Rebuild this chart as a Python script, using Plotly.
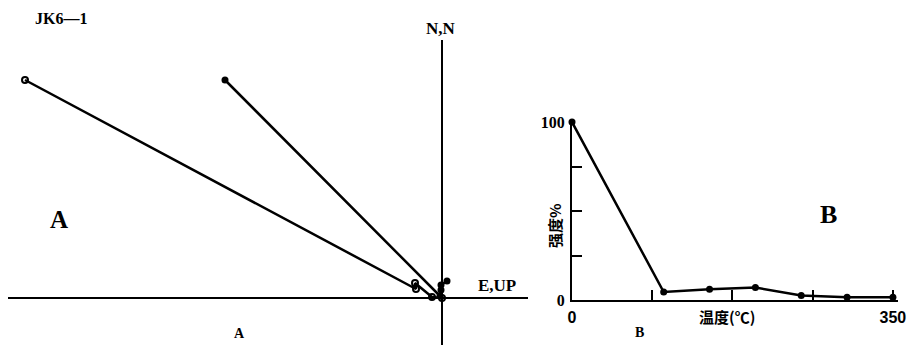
import plotly.graph_objects as go

# Left: orthogonal vector projection (arbitrary units)
open_x = [-41.7, -2.6, -2.7, -1.0, 0.0]
open_y = [21.8, 0.9, 1.5, 0.1, 0.0]
fill_x = [-21.7, -0.2, -0.1, -0.1, 0.5]
fill_y = [21.8, 0.2, 0.8, 1.3, 1.7]

# Right: demagnetization curve
temps = [0, 100, 150, 200, 250, 300, 350]
intensity = [100, 4.5, 6, 7, 2.5, 1.5, 1.5]
x_ticks = [0, 87.5, 175, 262.5, 350]
x_ticktext = ["0", "", "", "", "350"]
y_ticks = [0, 25, 50, 75, 100]
y_ticktext = ["0", "", "", "", "100"]

W, H = 908, 345
serif = "Liberation Serif, DejaVu Serif, serif"
sans = "Liberation Sans, Arial, sans-serif"
cjk = "Noto Sans CJK SC"

fig = go.Figure()
fig.add_trace(go.Scatter(x=open_x, y=open_y, mode="lines+markers",
                         line=dict(color="black", width=2.5),
                         marker=dict(symbol="circle-open", size=6, color="black", line=dict(width=2)),
                         xaxis="x", yaxis="y", cliponaxis=False, showlegend=False))
fig.add_trace(go.Scatter(x=fill_x, y=fill_y, mode="lines+markers",
                         line=dict(color="black", width=2.5),
                         marker=dict(symbol="circle", size=7, color="black"),
                         xaxis="x", yaxis="y", cliponaxis=False, showlegend=False))
fig.add_trace(go.Scatter(x=temps, y=intensity, mode="lines+markers",
                         line=dict(color="black", width=2.5),
                         marker=dict(symbol="circle", size=7, color="black"),
                         xaxis="x2", yaxis="y2", cliponaxis=False, showlegend=False))

# left axis lines (data coords)
fig.add_shape(type="line", xref="x", yref="y", x0=-43.4, x1=8.6, y0=0, y1=0,
              line=dict(color="black", width=2))
fig.add_shape(type="line", xref="x", yref="y", x0=0, x1=0, y0=25.8, y1=-4.7,
              line=dict(color="black", width=2))

ann = [
    dict(text="<b>JK6—1</b>", x=61, y=18, size=16, font=serif),
    dict(text="<b>N,N</b>", x=441, y=28, size=17, font=serif),
    dict(text="<b>E,UP</b>", x=497, y=285, size=17, font=serif),
    dict(text="<b>A</b>", x=59, y=219, size=25, font=serif),
    dict(text="<b>A</b>", x=239, y=333, size=14, font=serif),
    dict(text="<b>B</b>", x=828, y=214, size=26, font=serif),
    dict(text="<b>B</b>", x=639, y=332, size=14, font=serif),
    dict(text="<b>温度(℃)</b>", x=727, y=316, size=15, font=cjk),
]
for a in ann:
    fig.add_annotation(text=a["text"], xref="paper", yref="paper",
                       x=a["x"] / W, y=1 - a["y"] / H, showarrow=False,
                       xanchor="center", yanchor="middle",
                       font=dict(family=a["font"], size=a["size"], color="black"))
fig.add_annotation(text="<b>强度%</b>", xref="paper", yref="paper",
                   x=555 / W, y=1 - 226 / H, showarrow=False, textangle=-90,
                   xanchor="center", yanchor="middle",
                   font=dict(family=cjk, size=15, color="black"))

fig.update_layout(
    width=W, height=H, margin=dict(l=0, r=0, t=0, b=0, autoexpand=False),
    paper_bgcolor="white", plot_bgcolor="rgba(0,0,0,0)",
    xaxis=dict(domain=[0, 1], range=[-44.2, 46.6], visible=False, fixedrange=True),
    yaxis=dict(domain=[0, 1], range=[-4.7, 29.8], visible=False, fixedrange=True),
    xaxis2=dict(domain=[572 / W, 897.5 / W], range=[0, 355], anchor="y2",
                showline=True, linecolor="black", linewidth=2, mirror=False,
                ticks="inside", ticklen=10, tickwidth=2, tickcolor="black",
                tickvals=x_ticks, ticktext=x_ticktext, showgrid=False, zeroline=False,
                tickfont=dict(family=sans, size=16, color="black", weight="bold"),
                ticklabelstandoff=2),
    yaxis2=dict(domain=[1 - 300 / H, 1 - 122 / H], range=[0, 100], anchor="x2",
                showline=True, linecolor="black", linewidth=2,
                ticks="inside", ticklen=10, tickwidth=2, tickcolor="black",
                tickvals=y_ticks, ticktext=y_ticktext, showgrid=False, zeroline=False,
                tickfont=dict(family=serif, size=16, color="black", weight="bold"),
                ticklabelstandoff=2),
)
fig.write_html("out.html", config={"displayModeBar": False},
               post_script="document.body.style.margin='0';")
